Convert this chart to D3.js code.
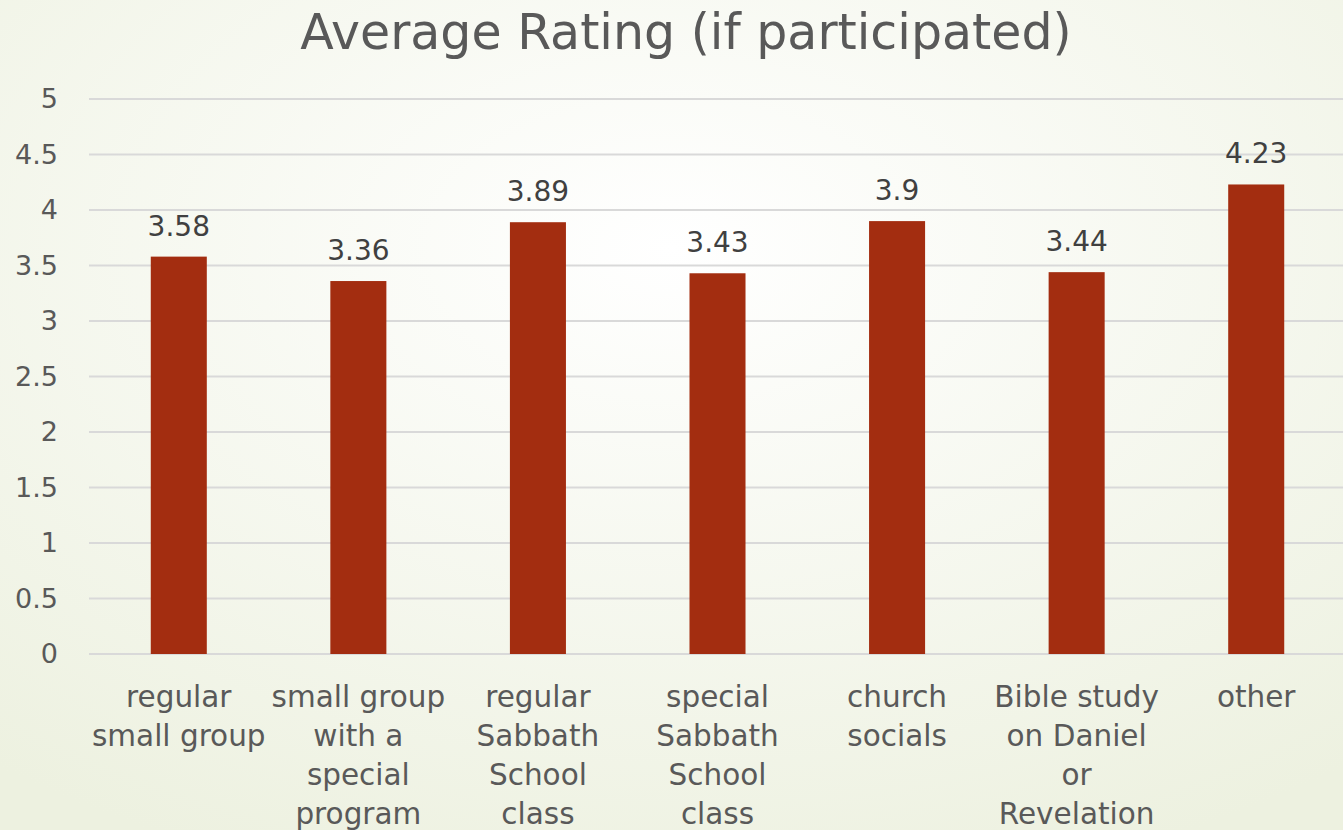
<!DOCTYPE html>
<html>
<head>
<meta charset="utf-8">
<script src="https://cdn.jsdelivr.net/npm/d3@7"></script>
<style>
  html, body { margin: 0; padding: 0; }
  body { width: 1343px; height: 830px; overflow: hidden; }
  svg text { font-family: "DejaVu Sans", sans-serif; }
</style>
</head>
<body>
<div id="chart"></div>
<script>
// chart data
const categories = [
  ["regular", "small group"],
  ["small group", "with a", "special", "program"],
  ["regular", "Sabbath", "School", "class"],
  ["special", "Sabbath", "School", "class"],
  ["church", "socials"],
  ["Bible study", "on Daniel", "or", "Revelation"],
  ["other"]
];
const ratings = [3.58, 3.36, 3.89, 3.43, 3.9, 3.44, 4.23];
const ratingLabels = ["3.58", "3.36", "3.89", "3.43", "3.9", "3.44", "4.23"];
const yTicks = [0, 0.5, 1, 1.5, 2, 2.5, 3, 3.5, 4, 4.5, 5];

const width = 1343, height = 830;
const margin = { top: 99, left: 89, right: -3, bottom: 176 };

const svg = d3.select("#chart").append("svg")
    .attr("width", width)
    .attr("height", height);

// slide background
const grad = svg.append("defs").append("radialGradient")
    .attr("id", "bg")
    .attr("cx", "50%").attr("cy", "30%").attr("r", "80%");
grad.append("stop").attr("offset", "0%").attr("stop-color", "#ffffff");
grad.append("stop").attr("offset", "100%").attr("stop-color", "#edf1e0");
svg.append("rect").attr("width", width).attr("height", height).attr("fill", "url(#bg)");

const x = d3.scaleBand()
    .domain(d3.range(categories.length))
    .range([margin.left, width - margin.right])
    .paddingInner(0.688)
    .paddingOuter(0.344);

const y = d3.scaleLinear()
    .domain([0, 5])
    .range([height - margin.bottom, margin.top]);

// gridlines
svg.append("g")
    .selectAll("line")
    .data(yTicks)
    .join("line")
    .attr("x1", margin.left)
    .attr("x2", width)
    .attr("y1", d => y(d))
    .attr("y2", d => y(d))
    .attr("stroke", "#d9d9d9")
    .attr("stroke-width", 2);

// y axis labels
const yAxis = svg.append("g")
    .attr("transform", `translate(${margin.left},0)`)
    .call(d3.axisLeft(y).tickValues(yTicks).tickSize(0).tickPadding(31).tickFormat(d3.format("")));
yAxis.select(".domain").remove();
yAxis.selectAll("text")
    .attr("font-family", "DejaVu Sans")
    .attr("font-size", 27)
    .attr("fill", "#595959");

// bars
svg.append("g")
    .selectAll("rect")
    .data(ratings)
    .join("rect")
    .attr("x", (d, i) => x(i))
    .attr("width", x.bandwidth())
    .attr("y", d => y(d))
    .attr("height", d => y(0) - y(d))
    .attr("fill", "#a32d10");

// value labels
svg.append("g")
    .selectAll("text")
    .data(ratings)
    .join("text")
    .attr("x", (d, i) => x(i) + x.bandwidth() / 2)
    .attr("y", d => y(d) - 21)
    .attr("text-anchor", "middle")
    .attr("font-size", 28)
    .attr("fill", "#404040")
    .text((d, i) => ratingLabels[i]);

// category labels
const cat = svg.append("g")
    .selectAll("text")
    .data(categories)
    .join("text")
    .attr("x", (d, i) => x(i) + x.bandwidth() / 2)
    .attr("y", 707)
    .attr("text-anchor", "middle")
    .attr("font-size", 29.5)
    .attr("fill", "#595959");
cat.selectAll("tspan")
    .data(d => d)
    .join("tspan")
    .attr("x", function() { return d3.select(this.parentNode).attr("x"); })
    .attr("dy", (d, i) => i === 0 ? 0 : 39)
    .text(d => d);

// title
svg.append("text")
    .attr("x", 686)
    .attr("y", 49)
    .attr("text-anchor", "middle")
    .attr("font-size", 49)
    .attr("fill", "#595959")
    .text("Average Rating (if participated)");
</script>
</body>
</html>
